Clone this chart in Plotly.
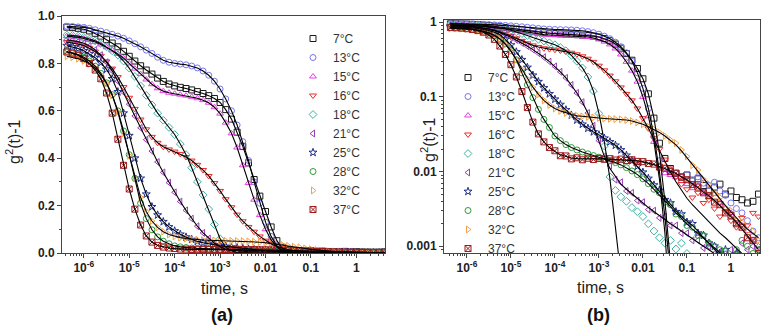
import plotly.graph_objects as go

# ---------------- data ----------------
time_s = [4.22e-7, 5.62e-7, 7.5e-7,
          1e-6, 1.33e-6, 1.78e-6, 2.37e-6, 3.16e-6, 4.22e-6, 5.62e-6, 7.5e-6,
          1e-5, 1.33e-5, 1.78e-5, 2.37e-5, 3.16e-5, 4.22e-5, 5.62e-5, 7.5e-5,
          1e-4, 1.33e-4, 1.78e-4, 2.37e-4, 3.16e-4, 4.22e-4, 5.62e-4, 7.5e-4,
          1e-3, 1.33e-3, 1.78e-3, 2.37e-3, 3.16e-3, 4.22e-3, 5.62e-3, 7.5e-3,
          0.01, 0.0133, 0.0178, 0.0237, 0.0316, 0.0422, 0.0562, 0.075,
          0.1, 0.133, 0.178, 0.237, 0.316, 0.422, 0.562, 0.75,
          1.0, 1.33, 1.78, 2.37, 3.16, 4.22]

labels = ["7°C", "13°C", "15°C", "16°C", "18°C", "21°C", "25°C", "28°C", "32°C", "37°C"]

fit_7 = [0.953, 0.951, 0.948, 0.944, 0.937, 0.927, 0.915, 0.900, 0.886, 0.870,
         0.851, 0.830, 0.810, 0.790, 0.772, 0.755, 0.738, 0.724, 0.713, 0.705,
         0.699, 0.694, 0.688, 0.681, 0.673, 0.664, 0.652, 0.635, 0.605, 0.565,
         0.510, 0.450, 0.380, 0.310, 0.240, 0.175, 0.110, 0.052, 0.018, 0.004,
         0.0006, 1e-5, 1e-5, 1e-5, 1e-5, 1e-5, 1e-5, 1e-5, 1e-5, 1e-5,
         1e-5, 1e-5, 1e-5, 1e-5, 1e-5, 1e-5, 1e-5]
obs_7 = [0.953, 0.951, 0.948, 0.944, 0.937, 0.927, 0.915, 0.900, 0.886, 0.870,
         0.851, 0.830, 0.810, 0.790, 0.772, 0.755, 0.738, 0.724, 0.713, 0.705,
         0.699, 0.694, 0.688, 0.681, 0.673, 0.664, 0.652, 0.635, 0.605, 0.565,
         0.510, 0.450, 0.380, 0.310, 0.240, 0.175, 0.110, 0.052, 0.024, 0.015,
         0.011, 0.0095, 0.0085, 0.009, 0.0075, 0.008, 0.0065, 0.0055, 0.0062, 0.0068,
         0.005, 0.0055, 0.0045, 0.0042, 0.0038, 0.004, 0.005]

fit_13 = [0.957, 0.956, 0.954, 0.952, 0.948, 0.942, 0.936, 0.930, 0.923, 0.915,
          0.906, 0.895, 0.883, 0.870, 0.856, 0.842, 0.826, 0.813, 0.805, 0.800,
          0.797, 0.794, 0.789, 0.781, 0.768, 0.750, 0.725, 0.692, 0.650, 0.600,
          0.540, 0.470, 0.390, 0.300, 0.210, 0.130, 0.070, 0.030, 0.010, 0.0025,
          0.0004, 1e-5, 1e-5, 1e-5, 1e-5, 1e-5, 1e-5, 1e-5, 1e-5, 1e-5,
          1e-5, 1e-5, 1e-5, 1e-5, 1e-5, 1e-5, 1e-5]
obs_13 = [0.957, 0.956, 0.954, 0.952, 0.948, 0.942, 0.936, 0.930, 0.923, 0.915,
          0.906, 0.895, 0.883, 0.870, 0.856, 0.842, 0.826, 0.813, 0.805, 0.800,
          0.797, 0.794, 0.789, 0.781, 0.768, 0.750, 0.725, 0.692, 0.650, 0.600,
          0.540, 0.470, 0.390, 0.300, 0.210, 0.130, 0.070, 0.030, 0.014, 0.011,
          0.0105, 0.0095, 0.0085, 0.009, 0.0078, 0.0085, 0.007, 0.0065, 0.0072, 0.0055,
          0.0048, 0.0038, 0.0032, 0.0028, 0.0022, 0.0016, 0.0013]

fit_15 = [0.915, 0.913, 0.910, 0.905, 0.899, 0.890, 0.880, 0.868, 0.855, 0.840,
          0.822, 0.800, 0.778, 0.755, 0.732, 0.712, 0.695, 0.683, 0.676, 0.672,
          0.668, 0.664, 0.659, 0.653, 0.645, 0.634, 0.615, 0.588, 0.550, 0.505,
          0.445, 0.370, 0.295, 0.225, 0.160, 0.100, 0.055, 0.025, 0.008, 0.0015,
          0.0002, 1e-5, 1e-5, 1e-5, 1e-5, 1e-5, 1e-5, 1e-5, 1e-5, 1e-5,
          1e-5, 1e-5, 1e-5, 1e-5, 1e-5, 1e-5, 1e-5]
obs_15 = [0.915, 0.913, 0.910, 0.905, 0.899, 0.890, 0.880, 0.868, 0.855, 0.840,
          0.822, 0.800, 0.778, 0.755, 0.732, 0.712, 0.695, 0.683, 0.676, 0.672,
          0.668, 0.664, 0.659, 0.653, 0.645, 0.634, 0.615, 0.588, 0.550, 0.505,
          0.445, 0.370, 0.295, 0.225, 0.160, 0.100, 0.055, 0.025, 0.012, 0.0095,
          0.009, 0.0085, 0.0075, 0.0068, 0.006, 0.0065, 0.0052, 0.0045, 0.005, 0.0038,
          0.0032, 0.0028, 0.0022, 0.0019, 0.0016, 0.0012, 0.001]

fit_16 = [0.890, 0.887, 0.882, 0.875, 0.864, 0.850, 0.832, 0.808, 0.778, 0.742,
          0.700, 0.655, 0.608, 0.563, 0.522, 0.490, 0.465, 0.448, 0.437, 0.428,
          0.418, 0.405, 0.390, 0.372, 0.350, 0.325, 0.295, 0.262, 0.227, 0.193,
          0.162, 0.134, 0.110, 0.090, 0.070, 0.052, 0.038, 0.027, 0.019, 0.0135,
          0.0098, 0.0073, 0.0056, 0.0044, 0.0036, 0.0030, 0.0025, 0.0021, 0.0018, 0.0015,
          0.0013, 0.0011, 0.00095, 0.0008, 0.0007, 0.0006, 0.0005]
obs_16 = [0.890, 0.887, 0.882, 0.875, 0.864, 0.850, 0.832, 0.808, 0.778, 0.742,
          0.700, 0.655, 0.608, 0.563, 0.522, 0.490, 0.465, 0.448, 0.437, 0.428,
          0.418, 0.405, 0.390, 0.372, 0.350, 0.325, 0.295, 0.262, 0.227, 0.193,
          0.162, 0.134, 0.110, 0.090, 0.070, 0.052, 0.038, 0.028, 0.020, 0.0145,
          0.011, 0.0085, 0.0068, 0.0058, 0.0045, 0.0052, 0.0038, 0.0042, 0.0032, 0.0025,
          0.0029, 0.0022, 0.0018, 0.0024, 0.0019, 0.0028, 0.0025]

fit_18 = [0.920, 0.918, 0.915, 0.910, 0.903, 0.895, 0.884, 0.870, 0.853, 0.835,
          0.810, 0.780, 0.745, 0.705, 0.665, 0.625, 0.590, 0.560, 0.530, 0.500,
          0.460, 0.415, 0.360, 0.300, 0.245, 0.185, 0.120, 0.060, 0.025, 0.008,
          0.002, 0.0004, 1e-5, 1e-5, 1e-5, 1e-5, 1e-5, 1e-5, 1e-5, 1e-5,
          1e-5, 1e-5, 1e-5, 1e-5, 1e-5, 1e-5, 1e-5, 1e-5, 1e-5, 1e-5,
          1e-5, 1e-5, 1e-5, 1e-5, 1e-5, 1e-5, 1e-5]
obs_18 = [0.920, 0.918, 0.915, 0.910, 0.903, 0.895, 0.884, 0.870, 0.853, 0.835,
          0.810, 0.780, 0.745, 0.705, 0.665, 0.625, 0.590, 0.560, 0.530, 0.500,
          0.460, 0.415, 0.360, 0.300, 0.245, 0.185, 0.120, 0.060, 0.022, 0.0085,
          0.0056, 0.0046, 0.004, 0.0033, 0.0029, 0.0025, 0.002, 0.0016, 0.0013, 0.0011,
          0.0012, 0.00092, 0.0011, 0.0008, 0.0007, 0.0006, 0.0005, 0.0005, 0.0004, 0.0004,
          0.0003, 0.0003, 0.0003, 0.0002, 0.0002, 0.0002, 0.0002]

fit_21 = [0.900, 0.897, 0.892, 0.885, 0.873, 0.857, 0.835, 0.805, 0.768, 0.725,
          0.678, 0.628, 0.578, 0.528, 0.478, 0.430, 0.384, 0.340, 0.297, 0.256,
          0.217, 0.180, 0.145, 0.113, 0.085, 0.061, 0.041, 0.026, 0.016, 0.011,
          0.0085, 0.0068, 0.0058, 0.0050, 0.0043, 0.0038, 0.0033, 0.0029, 0.0026, 0.0023,
          0.0020, 0.0018, 0.0016, 0.0014, 0.00125, 0.0011, 0.0010, 0.0009, 0.0008, 0.0007,
          0.00063, 0.00056, 0.0005, 0.00045, 0.0004, 0.00035, 0.0003]
obs_21 = [0.900, 0.897, 0.892, 0.885, 0.873, 0.857, 0.835, 0.805, 0.768, 0.725,
          0.678, 0.628, 0.578, 0.528, 0.478, 0.430, 0.384, 0.340, 0.297, 0.256,
          0.217, 0.180, 0.145, 0.113, 0.085, 0.061, 0.041, 0.026, 0.016, 0.012,
          0.0078, 0.0072, 0.0055, 0.0052, 0.0041, 0.0039, 0.0031, 0.003, 0.0024, 0.0025,
          0.0019, 0.0019, 0.0015, 0.0015, 0.0012, 0.0012, 0.00095, 0.001, 0.0008, 0.00085,
          0.0007, 0.0009, 0.0008, 0.0011, 0.0009, 0.001, 0.0009]

fit_25 = [0.875, 0.870, 0.863, 0.853, 0.840, 0.824, 0.803, 0.775, 0.735, 0.680,
          0.590, 0.495, 0.400, 0.315, 0.248, 0.195, 0.160, 0.132, 0.110, 0.093,
          0.079, 0.067, 0.057, 0.049, 0.043, 0.038, 0.034, 0.031, 0.028, 0.025,
          0.0225, 0.0195, 0.0165, 0.0140, 0.0118, 0.0098, 0.0081, 0.0066, 0.0054, 0.0044,
          0.0036, 0.0030, 0.0025, 0.0022, 0.0019, 0.0016, 0.0013, 0.0011, 0.0009, 0.00075,
          0.00063, 0.00053, 0.00045, 0.00038, 0.00032, 0.00027, 0.00023]
obs_25 = [0.875, 0.870, 0.863, 0.853, 0.840, 0.824, 0.803, 0.775, 0.735, 0.680,
          0.590, 0.495, 0.400, 0.315, 0.248, 0.195, 0.160, 0.132, 0.110, 0.093,
          0.079, 0.067, 0.057, 0.049, 0.043, 0.038, 0.034, 0.031, 0.028, 0.025,
          0.0225, 0.0195, 0.0165, 0.0140, 0.0118, 0.0098, 0.0081, 0.0066, 0.0056, 0.0042,
          0.0038, 0.0029, 0.0027, 0.0021, 0.002, 0.0015, 0.0014, 0.0011, 0.001, 0.0008,
          0.0009, 0.0007, 0.0008, 0.0006, 0.0007, 0.0005, 0.0006]

fit_28 = [0.850, 0.845, 0.837, 0.826, 0.810, 0.788, 0.758, 0.718, 0.668, 0.600,
          0.515, 0.415, 0.315, 0.210, 0.145, 0.098, 0.068, 0.050, 0.039, 0.030,
          0.026, 0.023, 0.021, 0.0195, 0.0183, 0.0173, 0.0164, 0.0156, 0.0148, 0.0140,
          0.0132, 0.0123, 0.0113, 0.0102, 0.0091, 0.0080, 0.0069, 0.0058, 0.0049, 0.0041,
          0.0034, 0.0028, 0.0024, 0.0020, 0.0017, 0.0015, 0.0013, 0.0011, 0.00095, 0.0008,
          0.0007, 0.0006, 0.00052, 0.00045, 0.0004, 0.00035, 0.0003]
obs_28 = [0.850, 0.845, 0.837, 0.826, 0.810, 0.788, 0.758, 0.718, 0.668, 0.600,
          0.515, 0.415, 0.315, 0.210, 0.145, 0.098, 0.068, 0.050, 0.039, 0.030,
          0.026, 0.023, 0.021, 0.0195, 0.0183, 0.0173, 0.0164, 0.0156, 0.0148, 0.0140,
          0.0132, 0.0123, 0.0113, 0.0102, 0.0091, 0.0080, 0.0069, 0.0058, 0.0052, 0.0039,
          0.0036, 0.0027, 0.0025, 0.0019, 0.0018, 0.0014, 0.0014, 0.0011, 0.001, 0.0009,
          0.00085, 0.0007, 0.0009, 0.0012, 0.001, 0.0008, 0.0009]

fit_32 = [0.830, 0.826, 0.820, 0.811, 0.798, 0.780, 0.752, 0.715, 0.665, 0.595,
          0.505, 0.410, 0.315, 0.235, 0.175, 0.135, 0.108, 0.090, 0.078, 0.070,
          0.065, 0.061, 0.058, 0.056, 0.0548, 0.0538, 0.053, 0.0522, 0.0515, 0.051,
          0.0505, 0.050, 0.049, 0.0475, 0.0455, 0.043, 0.040, 0.037, 0.0335, 0.030,
          0.0265, 0.0228, 0.019, 0.0155, 0.0125, 0.0102, 0.0082, 0.0066, 0.0053, 0.0043,
          0.0035, 0.0029, 0.0024, 0.0020, 0.0017, 0.0015, 0.0013]
obs_32 = [0.830, 0.826, 0.820, 0.811, 0.798, 0.780, 0.752, 0.715, 0.665, 0.595,
          0.505, 0.410, 0.315, 0.235, 0.175, 0.135, 0.108, 0.090, 0.078, 0.070,
          0.065, 0.061, 0.058, 0.056, 0.0548, 0.0538, 0.053, 0.0522, 0.0515, 0.051,
          0.0505, 0.050, 0.049, 0.0475, 0.0455, 0.043, 0.040, 0.037, 0.0335, 0.030,
          0.0265, 0.024, 0.0195, 0.016, 0.0122, 0.0105, 0.0079, 0.0068, 0.0051, 0.0045,
          0.0033, 0.003, 0.0022, 0.0021, 0.0016, 0.0016, 0.0012]

fit_37 = [0.848, 0.843, 0.834, 0.820, 0.800, 0.772, 0.735, 0.675, 0.590, 0.480,
          0.370, 0.270, 0.185, 0.118, 0.072, 0.046, 0.032, 0.025, 0.021, 0.0185,
          0.0168, 0.0158, 0.0152, 0.0149, 0.0148, 0.0148, 0.0148, 0.0148, 0.0148, 0.0147,
          0.0146, 0.0145, 0.0144, 0.0142, 0.0139, 0.0135, 0.0130, 0.0124, 0.0117, 0.0110,
          0.0102, 0.0094, 0.0086, 0.0077, 0.0069, 0.0061, 0.0054, 0.0047, 0.0041, 0.0035,
          0.0030, 0.0025, 0.0021, 0.0017, 0.0014, 0.0011, 0.0009]
obs_37 = [0.848, 0.843, 0.834, 0.820, 0.800, 0.772, 0.735, 0.675, 0.590, 0.480,
          0.370, 0.270, 0.185, 0.118, 0.072, 0.046, 0.032, 0.025, 0.021, 0.019,
          0.0163, 0.0162, 0.0148, 0.0153, 0.0144, 0.0151, 0.0145, 0.015, 0.0146, 0.0149,
          0.0143, 0.0147, 0.0141, 0.0144, 0.0137, 0.0136, 0.0128, 0.0126, 0.0115, 0.0111,
          0.010, 0.0095, 0.0084, 0.0078, 0.0067, 0.0062, 0.0052, 0.0048, 0.0039, 0.0036,
          0.0028, 0.0026, 0.002, 0.0018, 0.0013, 0.0012, 0.0008]

observed = [obs_7, obs_13, obs_15, obs_16, obs_18, obs_21, obs_25, obs_28, obs_32, obs_37]
fitted = [fit_7, fit_13, fit_15, fit_16, fit_18, fit_21, fit_25, fit_28, fit_32, fit_37]

x_tick_vals = [1e-6, 1e-5, 1e-4, 1e-3, 0.01, 0.1, 1]
x_tick_text = ["10<sup>-6</sup>", "10<sup>-5</sup>", "10<sup>-4</sup>", "10<sup>-3</sup>",
               "0.01", "0.1", "1"]
ya_tick_vals = [0.0, 0.2, 0.4, 0.6, 0.8, 1.0]
ya_tick_text = ["0.0", "0.2", "0.4", "0.6", "0.8", "1.0"]
yb_tick_vals = [0.001, 0.01, 0.1, 1]
yb_tick_text = ["0.001", "0.01", "0.1", "1"]

# ---------------- styles ----------------
colors = ["#1a1a1a", "#7676f2", "#e63fe6", "#ee2b2b", "#3fb2a4",
          "#9a3fb5", "#1f2f8f", "#2f9a3a", "#f5a043", "#9e1b1b"]
symbols = ["square-open", "circle-open", "triangle-up-open", "triangle-down-open",
           "diamond-open", "triangle-left-open", "star-open", "circle-open",
           "triangle-right-open", "square-x-open"]

W, H = 771, 329
FONT = "Liberation Sans, Arial, sans-serif"
AX = "#444444"

fig = go.Figure()

panels = [("x", "y", "legend"), ("x2", "y2", "legend2")]
for xa, ya, leg in panels:
    for lab, obs, col, sym in zip(labels, observed, colors, symbols):
        fig.add_trace(go.Scatter(
            x=time_s, y=obs, mode="markers", name=lab,
            xaxis=xa, yaxis=ya, legend=leg,
            marker=dict(symbol=sym, size=6, color=col, line=dict(color=col, width=1)),
        ))
    for lab, fit in zip(labels, fitted):
        fig.add_trace(go.Scatter(
            x=time_s, y=fit, mode="lines", name=lab + " fit",
            xaxis=xa, yaxis=ya, showlegend=False, hoverinfo="skip",
            line=dict(color="black", width=1.1),
        ))

minor_log_x = [m * 10.0 ** e for e in range(-7, 1) for m in range(2, 10)]
minor_log_y = [m * 10.0 ** e for e in range(-4, 0) for m in range(2, 10)]

tickfont = dict(family=FONT, size=12, color="#222222", weight="bold")
common = dict(showline=True, linecolor=AX, linewidth=1, mirror=True,
              ticks="outside", ticklen=4, tickwidth=1, tickcolor=AX,
              showgrid=False, zeroline=False, tickfont=tickfont, automargin=False)

fig.update_layout(
    width=W, height=H,
    margin=dict(l=0, r=0, t=0, b=0),
    paper_bgcolor="white", plot_bgcolor="white",
    showlegend=True,
    xaxis=dict(type="log", range=[-6.48, 0.63], domain=[62 / W, 385 / W], anchor="y",
               tickmode="array", tickvals=x_tick_vals, ticktext=x_tick_text,
               minor=dict(ticks="outside", ticklen=2, tickcolor=AX, tickmode="array",
                          tickvals=minor_log_x), **common),
    yaxis=dict(range=[0, 1.0], domain=[1 - 253 / H, 1 - 16 / H], anchor="x",
               tickmode="array", tickvals=ya_tick_vals, ticktext=ya_tick_text,
               minor=dict(ticks="outside", ticklen=2, tickcolor=AX, dtick=0.1), **common),
    xaxis2=dict(type="log", range=[-6.52, 0.66], domain=[444 / W, 760 / W], anchor="y2",
                tickmode="array", tickvals=x_tick_vals, ticktext=x_tick_text,
                minor=dict(ticks="outside", ticklen=2, tickcolor=AX, tickmode="array",
                           tickvals=minor_log_x), **common),
    yaxis2=dict(type="log", range=[-3.09, 0.03], domain=[1 - 253 / H, 1 - 20 / H], anchor="x2",
                tickmode="array", tickvals=yb_tick_vals, ticktext=yb_tick_text,
                minor=dict(ticks="outside", ticklen=2, tickcolor=AX, tickmode="array",
                           tickvals=minor_log_y), **common),
    legend=dict(x=293 / W, y=1 - 24 / H, xanchor="left", yanchor="top",
                bgcolor="rgba(0,0,0,0)", borderwidth=0, itemwidth=30,
                font=dict(family=FONT, size=12, color="#333333")),
    legend2=dict(x=448 / W, y=1 - 63 / H, xanchor="left", yanchor="top",
                 bgcolor="rgba(0,0,0,0)", borderwidth=0, itemwidth=30,
                 font=dict(family=FONT, size=12, color="#333333")),
)

title_font = dict(family=FONT, size=16, color="#222222")
panel_font = dict(family=FONT, size=18, color="#111111", weight="bold")
annots = [
    dict(text="time, s", x=224 / W, y=1 - 288 / H, font=title_font, textangle=0),
    dict(text="time, s", x=600 / W, y=1 - 287 / H, font=title_font, textangle=0),
    dict(text="g<sup>2</sup>(t)-1", x=13 / W, y=1 - 142 / H, font=title_font, textangle=-90),
    dict(text="g<sup>2</sup>(t)-1", x=428 / W, y=1 - 140 / H, font=title_font, textangle=-90),
    dict(text="(a)", x=222 / W, y=1 - 315 / H, font=panel_font, textangle=0),
    dict(text="(b)", x=598 / W, y=1 - 315 / H, font=panel_font, textangle=0),
]
for a in annots:
    fig.add_annotation(xref="paper", yref="paper", xanchor="center", yanchor="middle",
                       showarrow=False, **a)

fig.write_html("out.html", config={"displayModeBar": False},
               post_script="document.body.style.margin='0px';")
